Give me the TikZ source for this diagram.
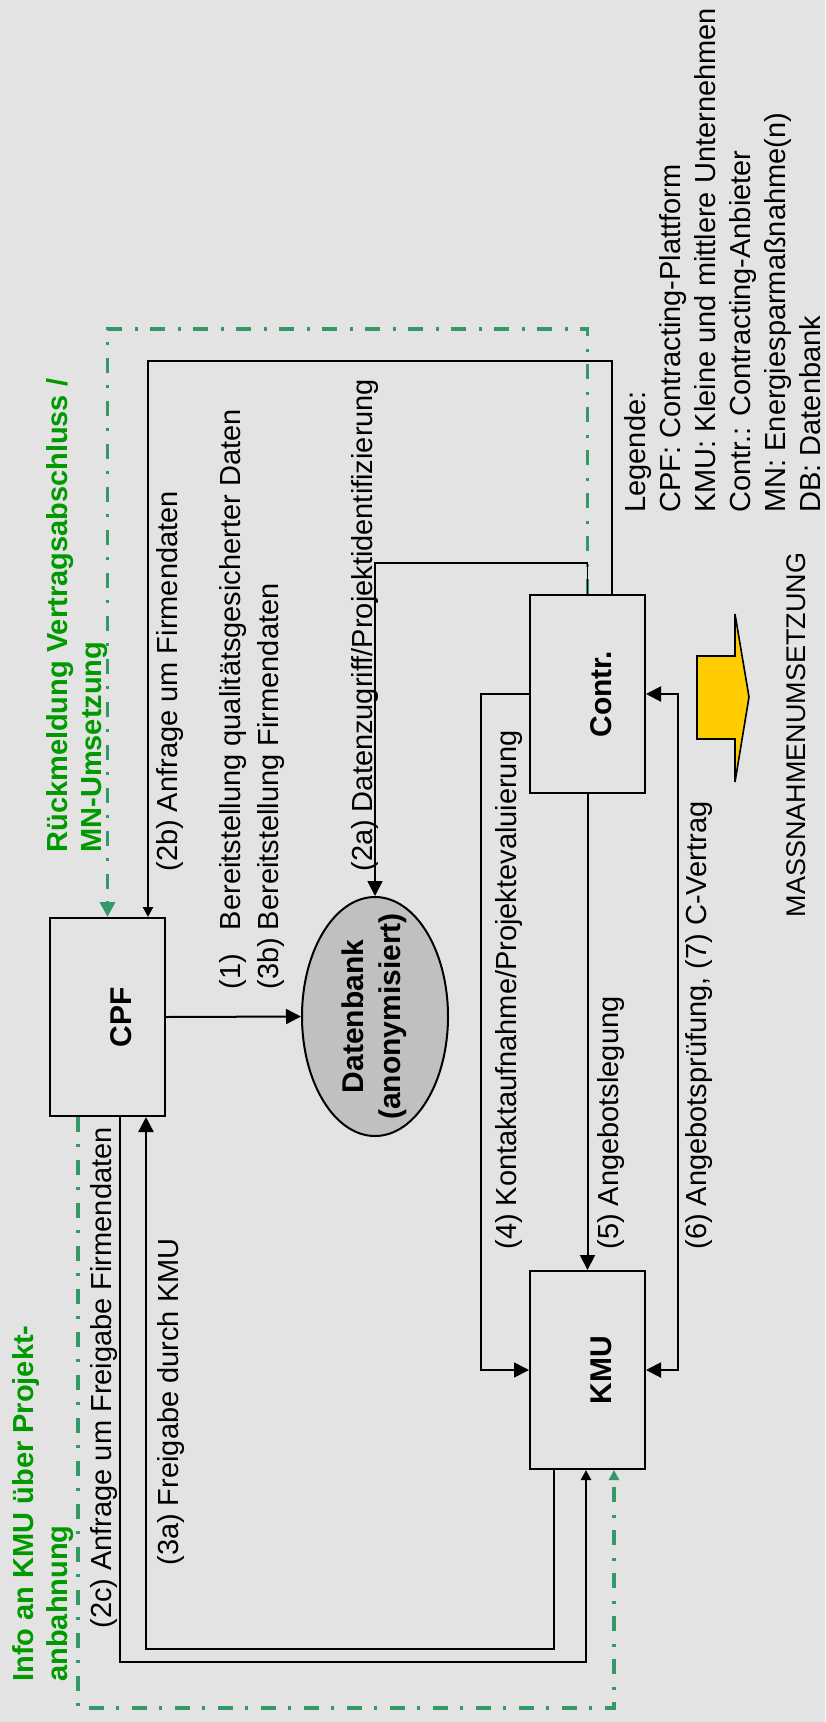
\documentclass[tikz,border=0pt]{standalone}
\usepackage{fontspec}
\setmainfont{Liberation Sans}
\usetikzlibrary{arrows.meta,shapes.geometric}
\definecolor{bggray}{RGB}{227,227,227}
\definecolor{dbgray}{RGB}{192,192,192}
\definecolor{linegreen}{RGB}{51,153,102}
\definecolor{textgreen}{RGB}{0,153,0}
\definecolor{arrowyellow}{RGB}{255,204,0}
\newcommand{\lblsize}{\fontsize{14.5}{17.5}\selectfont}
\newcommand{\boxsize}{\fontsize{15}{18.5}\selectfont\bfseries}
\newcommand{\boxtext}[1]{\hspace*{13.5pt}\rotatebox{90}{#1}}
\tikzset{
	box/.style={draw, line width=1pt, minimum width=57.5pt, minimum height=99pt, inner sep=0pt, font=\boxsize},
	lbl/.style={rotate=90, inner sep=0pt, align=left, font=\lblsize},
	infoline/.style={draw=linegreen, line width=1.8pt, dash pattern=on 7.5pt off 6pt on 1.5pt off 6.5pt},
	infotext/.style={rotate=90, inner sep=0pt, align=left, text=textgreen, font=\fontsize{14.5}{17}\selectfont\bfseries},
	smalltip/.style={-{Triangle[length=5pt,width=5pt]}}
}

\begin{document}
\begin{tikzpicture}[x=0.5pt, y=-0.5pt, >={Triangle[length=7.5pt,width=7.5pt]}]
	\fill[bggray] (0,0) rectangle (825,1722);
	\useasboundingbox (0,0) rectangle (825,1722);

	\node[box] (cpf) at (107.5,1017) {\boxtext{CPF}};
	\node[box] (contr) at (587.5,694) {\boxtext{Contr.}};
	\node[box] (kmu) at (587.5,1370) {\boxtext{KMU}};
	\node[draw, ellipse, fill=dbgray, line width=1pt, minimum width=73pt, minimum height=119.5pt, inner sep=0pt] (db) at (375,1016.5) {};
	\node[font=\boxsize, inner sep=0pt] (dbtext) at (db.center) {\rotatebox{90}{\begin{tabular}{@{}c@{}}Datenbank\\(anonymisiert)\end{tabular}}};

	\draw[infoline, ->] (contr.north) -- ++(0,-265) -| (cpf.north);
	\draw[infoline, smalltip] ([xshift=-14.75pt]cpf.south) -- ++(0,591) -| ([xshift=13.25pt]kmu.south);

	\draw[->, line width=0.85pt] (contr.north) -- ++(0,-31) -| (db.north);
	\draw[smalltip, line width=1.15pt] ([xshift=12.25pt]contr.north) -- ++(0,-233) -| ([xshift=20.25pt]cpf.north);
	\draw[->, line width=1pt] (cpf.east) -- (db.west);
	\draw[->, line width=0.85pt] (contr.west) -- ++(-48,0) |- (kmu.west);
	\draw[->, line width=1pt] (contr.south) -- (kmu.north);
	\draw[<->, line width=1pt] (contr.east) -- ++(32,0) |- (kmu.east);
	\draw[->, line width=1.3pt] ([xshift=-16.75pt]kmu.south) -- ++(0,179) -| ([xshift=19.25pt]cpf.south);
	\draw[smalltip, line width=1.3pt] ([xshift=6.25pt]cpf.south) -- ++(0,545) -| ([xshift=-0.75pt]kmu.south);

	\node[lbl, anchor=west] (l2b) at (170,872) {(2b) Anfrage um Firmendaten};
	\node[lbl, anchor=west, font=\fontsize{14.5}{19}\selectfont] (l1) at (252,990) {\begin{tabular}{@{}l@{\ }l@{}}(1) & Bereitstellung qualitätsgesicherter Daten\\(3b) & Bereitstellung Firmendaten\end{tabular}};
	\node[lbl, anchor=west] (l2a) at (365,872) {(2a) Datenzugriff/Projektidentifizierung};
	\node[lbl, anchor=west] (l4) at (508.5,1250) {(4) Kontaktaufnahme/Projektevaluierung};
	\node[lbl, anchor=west] (l5) at (611,1250) {(5) Angebotslegung};
	\node[lbl, anchor=west] (l6) at (698.5,1250) {(6) Angebotsprüfung, (7) C-Vertrag};
	\node[lbl, anchor=west] (l3a) at (171,1566) {(3a) Freigabe durch KMU};
	\node[lbl, anchor=west] (l2c) at (104.5,1629) {(2c) Anfrage um Freigabe Firmendaten};

	\node[infotext, anchor=north west] (rueck) at (46,853) {Rückmeldung Vertragsabschluss /\\MN-Umsetzung};
	\node[infotext, anchor=north west] (info) at (12,1682) {Info an KMU über Projekt-\\anbahnung};

	\node[lbl, anchor=north west] (legende) at (624,513) {Legende:\\CPF: Contracting-Plattform\\KMU: Kleine und mittlere Unternehmen\\Contr.: Contracting-Anbieter\\MN: Energiesparmaßnahme(n)\\DB: Datenbank};

	\draw[fill=arrowyellow, line width=0.8pt] (697,656) -- (735,656) -- (735,614) -- (749,697) -- (735,782) -- (735,739) -- (697,739) -- cycle;
	\node[rotate=90, inner sep=0pt, font=\fontsize{13.5}{16}\selectfont] (umsetzung) at (796,735) {MASSNAHMENUMSETZUNG};
\end{tikzpicture}
\end{document}
